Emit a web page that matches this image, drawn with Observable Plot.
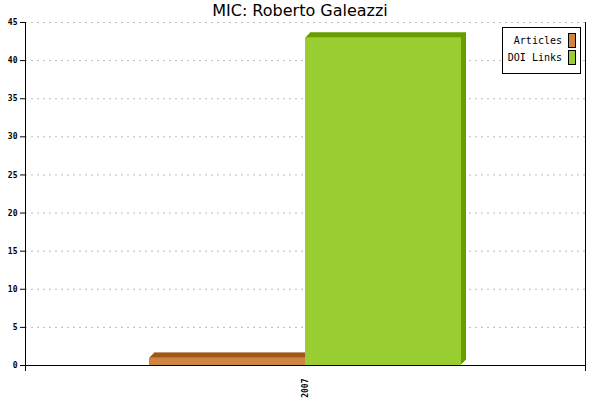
<!DOCTYPE html>
<html>
<head>
<meta charset="utf-8">
<script src="https://cdn.jsdelivr.net/npm/d3@7"></script>
<script src="https://cdn.jsdelivr.net/npm/@observablehq/plot@0.6"></script>
<style>
  body { margin: 0; background: #fff; }
  #wrap { position: relative; width: 600px; height: 400px; }
  #title { position: absolute; top: 1px; left: 0; width: 600px; text-align: center;
    font: 16px "DejaVu Sans", sans-serif; line-height: 20px; color: #000; }
  #legend { position: absolute; left: 502px; top: 27px; width: 77px; height: 45px;
    border: 1px solid #000; background: #fff; font: 10px "DejaVu Sans Mono", monospace; }
  .item { position: absolute; right: 4px; display: flex; align-items: center; white-space: nowrap; }
  .sw { display: inline-block; width: 6px; height: 13px; border: 1px solid #000; margin-left: 6px; }
  svg { overflow: visible; position: absolute; left: 0; top: 0; }
</style>
</head>
<body>
<div id="wrap">
  <div id="chart"></div>
  <div id="title">MIC: Roberto Galeazzi</div>
  <div id="legend"></div>
</div>
<script>
const years = ["2007"];
const series = ["Articles", "DOI Links"];
const articles = [1];
const doiLinks = [43];
const colors = ["#cd853f", "#9acd32"];
const darkColors = ["#a0591a", "#699e00"];
const yTicks = [0, 5, 10, 15, 20, 25, 30, 35, 40, 45];
const depth = 5;

const data = years.flatMap((yr, i) => [
  {year: yr, series: series[0], value: articles[i]},
  {year: yr, series: series[1], value: doiLinks[i]}
]);

const backBars = series.flatMap((s, i) => d3.range(depth, 0, -1).map(k =>
  Plot.barY(data.filter(d => d.series === s), {
    fx: "year", x: "series", y: "value", fill: darkColors[i], inset: 0, dx: k, dy: -k
  })));
const frontBars = series.map((s, i) => Plot.barY(data.filter(d => d.series === s), {
  fx: "year", x: "series", y: "value", fill: colors[i], inset: 0
}));

const chart = Plot.plot({
  width: 600, height: 400,
  marginTop: 22, marginBottom: 35, marginLeft: 25, marginRight: 15,
  style: {background: "transparent"},
  fx: {domain: years, padding: 0, label: null},
  x: {domain: series, paddingInner: 0, paddingOuter: 0.789, axis: null},
  y: {domain: [0, 45], label: null},
  marks: [
    Plot.gridY(yTicks.filter(v => v > 0), {stroke: "#bbb", strokeOpacity: 1, strokeDasharray: "2,4"}),
    ...backBars,
    ...frontBars,
    Plot.ruleY([0], {stroke: "#000", strokeWidth: 1}),
    Plot.frame({anchor: "left", stroke: "#000", insetBottom: -5}),
    Plot.frame({anchor: "right", stroke: "#000", insetBottom: -5}),
    Plot.axisY(yTicks, {tickSize: 5, tickPadding: 3, fontSize: 8, fontWeight: "bold",
      fontFamily: "DejaVu Sans Mono, monospace", label: null, stroke: "#000"}),
    Plot.axisFx({anchor: "bottom", tickSize: 0, tickRotate: -90, tickPadding: 13,
      fontSize: 8, fontWeight: "bold", fontFamily: "DejaVu Sans Mono, monospace", label: null})
  ]
});
document.getElementById("chart").appendChild(chart);

const legend = document.getElementById("legend");
series.forEach((s, i) => {
  const it = document.createElement("div");
  it.className = "item";
  it.style.top = (5 + i * 17) + "px";
  const t = document.createElement("span");
  t.textContent = s;
  const sw = document.createElement("span");
  sw.className = "sw";
  sw.style.background = colors[i];
  it.appendChild(t);
  it.appendChild(sw);
  legend.appendChild(it);
});
</script>
</body>
</html>
